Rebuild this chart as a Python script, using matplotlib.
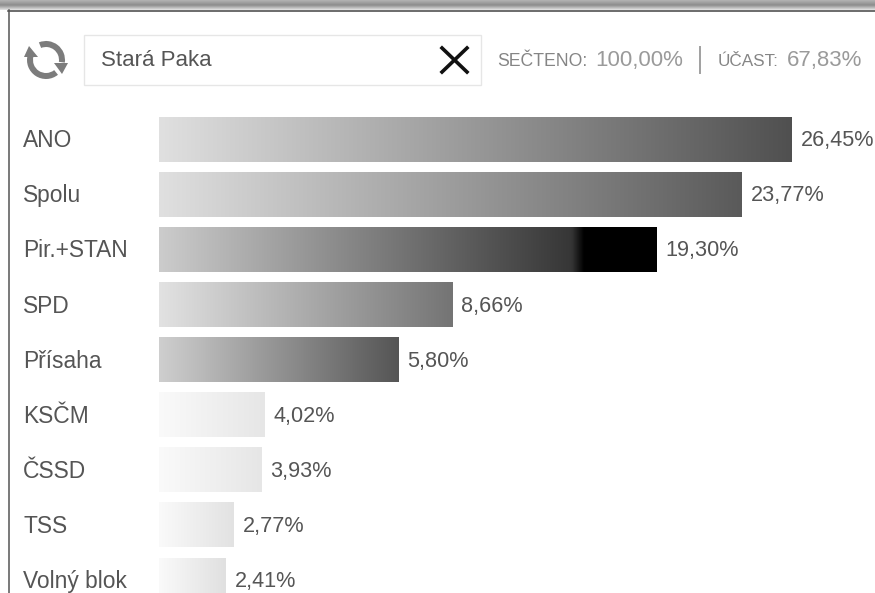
#!/usr/bin/env python3
"""Election results widget for Stara Paka, redrawn as a gradient bar chart."""

import numpy as np
import matplotlib
matplotlib.use('Agg')
import matplotlib.pyplot as plt
from matplotlib.colors import LinearSegmentedColormap
from matplotlib.patches import Polygon, Rectangle, Wedge

plt.rcParams['font.family'] = ['Liberation Sans', 'DejaVu Sans']

parties = ['ANO', 'Spolu', 'Pir.+STAN', 'SPD', 'Přísaha', 'KSČM', 'ČSSD', 'TSS', 'Volný blok']
share_labels = ['26,45%', '23,77%', '19,30%', '8,66%', '5,80%', '4,02%', '3,93%', '2,77%', '2,41%']
# the source bars are not proportional to the shares, so lengths are read off the picture
bar_lengths = [633, 583, 498, 294, 240, 106, 103, 75, 67]

# gradient stops per bar, left to right
bar_stops = [
    [(0, '#e0e0e0'), (1, '#505050')],
    [(0, '#e0e0e0'), (1, '#5a5a5a')],
    [(0, '#cccccc'), (0.83, '#363636'), (0.855, '#000000'), (1, '#000000')],
    [(0, '#e2e2e2'), (1, '#747474')],
    [(0, '#cfcfcf'), (1, '#555555')],
    [(0, '#fafafa'), (1, '#e6e6e6')],
    [(0, '#fafafa'), (1, '#e6e6e6')],
    [(0, '#fafafa'), (1, '#e2e2e2')],
    [(0, '#fafafa'), (1, '#e0e0e0')],
]

place = 'Stará Paka'
counted_label, counted_value = 'SEČTENO:', '100,00%'
turnout_label, turnout_value = 'ÚČAST:', '67,83%'

TEXT = '#555555'
MUTED = '#9a9a9a'
ICON = '#7c7c7c'

W, H = 875, 593
fig = plt.figure(figsize=(W / 100, H / 100), dpi=100, facecolor='white')

# page furniture in pixel coordinates
page = fig.add_axes([0, 0, 1, 1])
page.axis('off')

band = LinearSegmentedColormap.from_list(
    'band', [(0, '#b4b4b4'), (0.5, '#8c8c8c'), (0.85, '#c8c8c8'), (1, '#e4e4e4')])
page.imshow(np.linspace(0, 1, 32)[:, None], extent=(0, W, 10, 0), cmap=band, aspect='auto')
page.set_xlim(0, W)
page.set_ylim(H, 0)
page.plot([8, W], [10.5, 10.5], color='#444444', lw=1.1)
page.plot([8.5, 8.5], [10, H], color='#555555', lw=1.1)

# refresh icon
page.add_patch(Wedge((46, 60), 19, 248, 368, width=6, color=ICON, lw=0))
page.add_patch(Wedge((46, 60), 19, 51, 196, width=6, color=ICON, lw=0))
page.add_patch(Polygon([(24, 57), (38, 57), (29, 46)], color=ICON, lw=0))
page.add_patch(Polygon([(54, 63), (68, 63), (62, 74)], color=ICON, lw=0))

# search box
page.add_patch(Rectangle((84, 35), 397, 50, fc='white', ec='#e6e6e6', lw=1))
page.text(101, 60, place, fontsize=16, color=TEXT, va='center')
page.plot([442, 467], [48, 72], color='#111111', lw=2.6)
page.plot([467, 442], [48, 72], color='#111111', lw=2.6)

page.text(497, 61.5, counted_label, fontsize=12.7, color='#858585', va='center')
page.text(595, 60.5, counted_value, fontsize=16, color=MUTED, va='center')
page.plot([700, 700], [47, 73], color='#a0a0a0', lw=1.4)
page.text(718, 61.5, turnout_label, fontsize=12.3, color='#858585', va='center')
page.text(787, 60.5, turnout_value, fontsize=16, color=MUTED, va='center')

# bars: one x unit is one pixel from the bar baseline, one y unit is one row
row_step = 55.1
first_row_px = 139.6
top_px = first_row_px - row_step / 2
ax = fig.add_axes([159 / W, 0, (W - 159) / W, (H - top_px) / H])
ax.patch.set_alpha(0)
ax.axis('off')

for i, (party, label, length, stops) in enumerate(zip(parties, share_labels, bar_lengths, bar_stops)):
    cmap = LinearSegmentedColormap.from_list(f'bar{i}', stops)
    ax.imshow(np.linspace(0, 1, 256)[None, :], extent=(0, length, i + 0.4, i - 0.4),
              cmap=cmap, aspect='auto', interpolation='bilinear')
    ax.text(-136, i + 0.02, party, fontsize=16.4, color=TEXT, va='center', clip_on=False)
    ax.text(length + 8.5, i + 0.02, label, fontsize=15.6, color=TEXT, va='center', clip_on=False)

ax.set_xlim(0, W - 159)
ax.set_ylim((H - first_row_px) / row_step, -0.5)

fig.savefig('out.png', dpi=100)
